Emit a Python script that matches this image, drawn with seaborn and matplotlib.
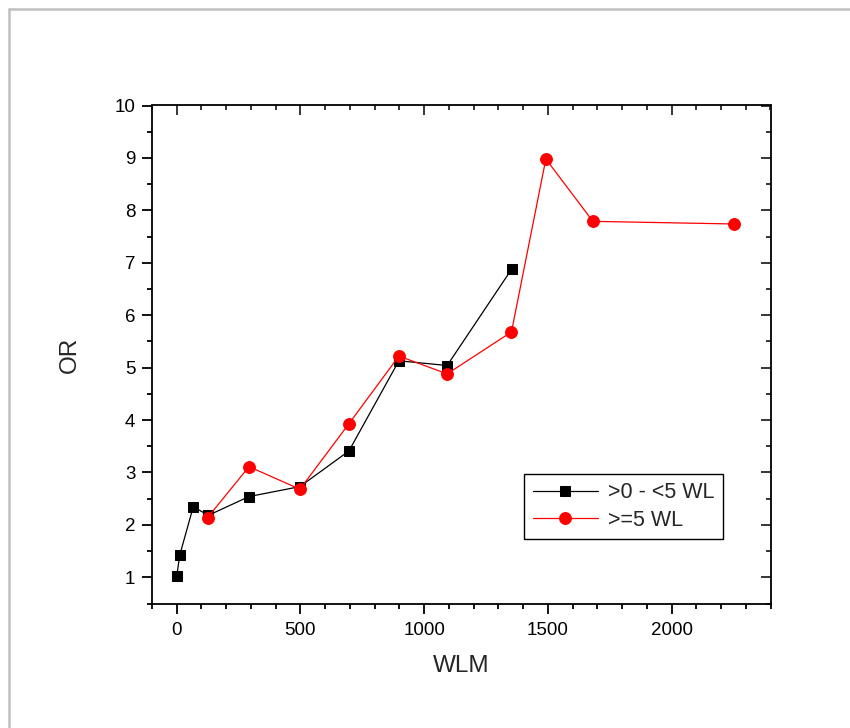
import matplotlib
matplotlib.use("Agg")
import matplotlib.pyplot as plt
import seaborn as sns
import pandas as pd
from matplotlib.ticker import MultipleLocator
from matplotlib.lines import Line2D

# Data
wlm_low = [0, 12, 67, 127, 292, 498, 696, 898, 1093, 1354]
or_low = [1.02, 1.42, 2.35, 2.18, 2.54, 2.73, 3.41, 5.13, 5.04, 6.88]
label_low = ">0 - <5 WL"

wlm_high = [125, 292, 498, 696, 898, 1093, 1353, 1492, 1682, 2252]
or_high = [2.14, 3.11, 2.68, 3.93, 5.22, 4.88, 5.68, 8.98, 7.79, 7.74]
label_high = ">=5 WL"

x_label = "WLM"
y_label = "OR"

sns.set_style("ticks")
plt.rcParams['font.family'] = ['Liberation Sans', 'DejaVu Sans']

fig = plt.figure(figsize=(8.5, 7.28), dpi=100)
ax = fig.add_axes([152/850, 1-603.5/728, (770.5-152)/850, (603.5-105.5)/728])

df_low = pd.DataFrame({"WLM": wlm_low, "OR": or_low})
df_high = pd.DataFrame({"WLM": wlm_high, "OR": or_high})

sns.lineplot(data=df_low, x="WLM", y="OR", ax=ax, color="black", linewidth=0.9,
             marker="s", markersize=7, markeredgecolor="black", markerfacecolor="black",
             sort=False, label=label_low)
sns.lineplot(data=df_high, x="WLM", y="OR", ax=ax, color="red", linewidth=0.9,
             marker="o", markersize=8.5, markeredgecolor="red", markerfacecolor="red",
             sort=False, label=label_high)

ax.set_xlim(-100, 2400)
ax.set_ylim(0.5, 10)
ax.xaxis.set_major_locator(MultipleLocator(500))
ax.xaxis.set_minor_locator(MultipleLocator(100))
ax.yaxis.set_major_locator(MultipleLocator(1))
ax.yaxis.set_minor_locator(MultipleLocator(0.5))

for s in ax.spines.values():
    s.set_visible(True)
    s.set_linewidth(1.3)
    s.set_color("black")

ax.tick_params(axis="both", which="major", length=7, width=1.3, color="black",
               labelsize=13.5, labelcolor="black")
ax.tick_params(axis="both", which="minor", length=3.5, width=1.3, color="black")
ax.tick_params(axis="x", which="both", direction="out", top=False)
ax.tick_params(axis="y", which="both", direction="out", right=False)
ax.tick_params(axis="x", which="major", pad=6)
ax.tick_params(axis="y", which="major", pad=5)

# secondary ticks (inward) on top and right
ax_top = ax.secondary_xaxis("top")
ax_top.xaxis.set_major_locator(MultipleLocator(500))
ax_top.xaxis.set_minor_locator(MultipleLocator(100))
ax_top.tick_params(which="major", direction="in", length=7, width=1.3, labeltop=False)
ax_top.tick_params(which="minor", direction="in", length=3.5, width=1.3)
ax_top.spines["top"].set_visible(False)
ax_right = ax.secondary_yaxis("right")
ax_right.yaxis.set_major_locator(MultipleLocator(1))
ax_right.yaxis.set_minor_locator(MultipleLocator(0.5))
ax_right.tick_params(which="major", direction="in", length=7, width=1.3, labelright=False)
ax_right.tick_params(which="minor", direction="in", length=3.5, width=1.3)
ax_right.spines["right"].set_visible(False)

ax.set_xlabel(x_label, fontsize=17.5, labelpad=12)
ax.set_ylabel(y_label, fontsize=17.5, labelpad=24)

leg = ax.legend(loc="lower left", bbox_to_anchor=(0.602, 0.129), borderaxespad=0,
                fontsize=15.5, frameon=True, fancybox=False, edgecolor="black",
                handlelength=3, handletextpad=0.5, borderpad=0.4, labelspacing=0.3)
leg.get_frame().set_linewidth(1.0)
leg.get_frame().set_alpha(1)

# light gray page border (top and left)
fig.add_artist(Line2D([8.5/850, 1.0], [1-8.5/728, 1-8.5/728], transform=fig.transFigure,
                      color="#c0c0c0", linewidth=1.8))
fig.add_artist(Line2D([8.5/850, 8.5/850], [0, 1-8.5/728], transform=fig.transFigure,
                      color="#c0c0c0", linewidth=1.8))

fig.savefig("out.png", dpi=100)
